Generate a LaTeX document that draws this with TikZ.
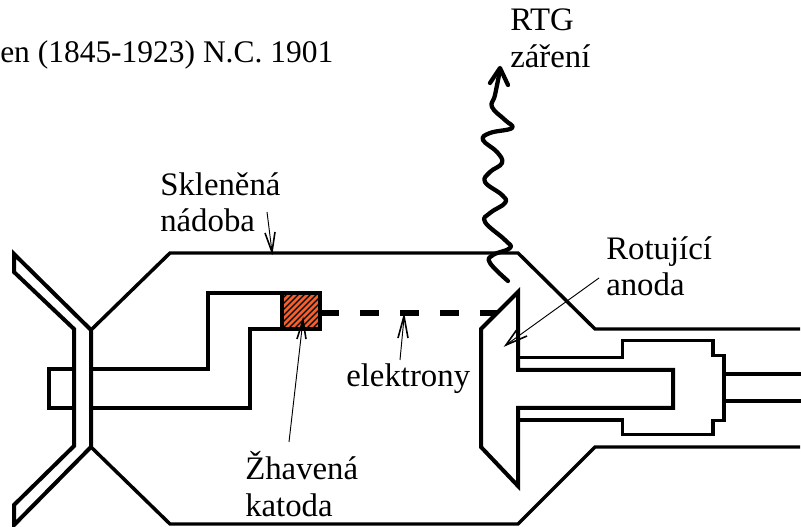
\documentclass[tikz,border=0pt]{standalone}
\usepackage{fontspec}
\setmainfont{Liberation Serif}
\tikzset{
  px/.style={x=0.75pt,y=-0.75pt},
  wall/.style={draw=black,line width=3pt,line join=miter,line cap=butt},
  wallthin/.style={draw=black,line width=2.6pt,line join=miter,line cap=butt},
  lead/.style={draw=black,line width=0.7pt},
  leadhead/.style={draw=black,line width=1.2pt},
  lbl/.style={inner sep=0pt,anchor=base west,font=\fontsize{24.6}{26}\selectfont,text=black},
}
\begin{document}
\begin{tikzpicture}[px]
\useasboundingbox (0,0) rectangle (801,527);
% hot cathode
\fill[fill={rgb,255:red,240;green,96;blue,48}] (282,293) rectangle (320,329);
\begin{scope}
\clip (282,293) rectangle (320,329);
\foreach \d in {-42,-36,...,84}{\draw[line width=0.8pt] (270+\d,335) -- (270+\d+50,285);}
\end{scope}
% envelope
\coordinate (tl) at (170,253);
\coordinate (tr) at (518,253);
\draw[wallthin] (91,330) -- (tl) -- (tr) -- (595,329) -- (800,329);
\draw[wallthin] (91,447) -- (170,524) -- (518,524) -- (595,447) -- (800,447);
% flange
\draw[wall] (74,329) -- (14,272) -- (14,254) -- (91,330) -- (91,447) -- (14,525) -- (14,505) -- (74,446) -- cycle;
% cathode stalk
\draw[wall] (91,369) -- (208,369) -- (208,293) -- (320,293) -- (320,329) -- (250,329) -- (250,408) -- (91,408);
\draw[wall] (282,293) -- (282,329);
\draw[wallthin] (74,369) -- (49,369) -- (49,408) -- (74,408);
% electrons
\draw[draw=black,line width=3.8pt,dash pattern=on 14.6pt off 15.4pt] (320,313) -- (497,313);
% anode
\draw[wall] (518,292) -- (481,329) -- (481,447) -- (518,486) -- (518,408) -- (673,408) -- (673,370) -- (518,370) -- cycle;
% housing
\draw[wallthin] (518,357.5) -- (622.7,357.5) -- (622.7,340.7) -- (713,340.7) -- (713,355.7) -- (724,355.7) -- (724,420.7) -- (713,420.7) -- (713,434.7) -- (622.7,434.7) -- (622.7,420) -- (518,420);
\draw[wallthin] (724,374) -- (801,374);
\draw[wallthin] (724,401) -- (801,401);
% radiation
\draw[line width=3.2pt,line cap=round,line join=round] plot[smooth,tension=0.7] coordinates {(508,281) (490,263) (493,255) (510,248) (505,240) (485,222) (490,213) (505,203) (502,195) (485,182) (490,172) (502,163) (497,152) (483,140) (490,133) (512,128) (505,120) (492,107) (495,95) (500,70)};
\draw[line width=3.2pt,line cap=round,line join=round] (490,83) -- (500,68) -- (508,85);
% leaders
\draw[lead] (267,212) -- (272,252);
\draw[leadhead] (265,233) -- (272,252) -- (275,232);
\draw[lead] (400,360) -- (404,318);
\draw[leadhead] (398,338) -- (404,316) -- (408,338);
\draw[lead] (289,442) -- (303,320);
\draw[leadhead] (297,339) -- (303,320) -- (306,339);
\draw[lead] (599,278) -- (506,345);
\draw[leadhead] (518,328) -- (506,345) -- (527,336);
% labels
\node[lbl,font=\fontsize{23.6}{26}\selectfont] (t1) at (0,63) {en (1845-1923) N.C. 1901};
\node[lbl] (t2) at (510,31) {RTG};
\node[lbl] (t3) at (510,68) {záření};
\node[lbl] (t4) at (160,196) {Skleněná};
\node[lbl] (t5) at (160,232) {nádoba};
\node[lbl] (t6) at (606,260) {Rotující};
\node[lbl] (t7) at (606,296) {anoda};
\node[lbl] (t8) at (346,387) {elektrony};
\node[lbl] (t9) at (245,480) {Žhavená};
\node[lbl] (t10) at (245,517) {katoda};
\end{tikzpicture}
\end{document}
